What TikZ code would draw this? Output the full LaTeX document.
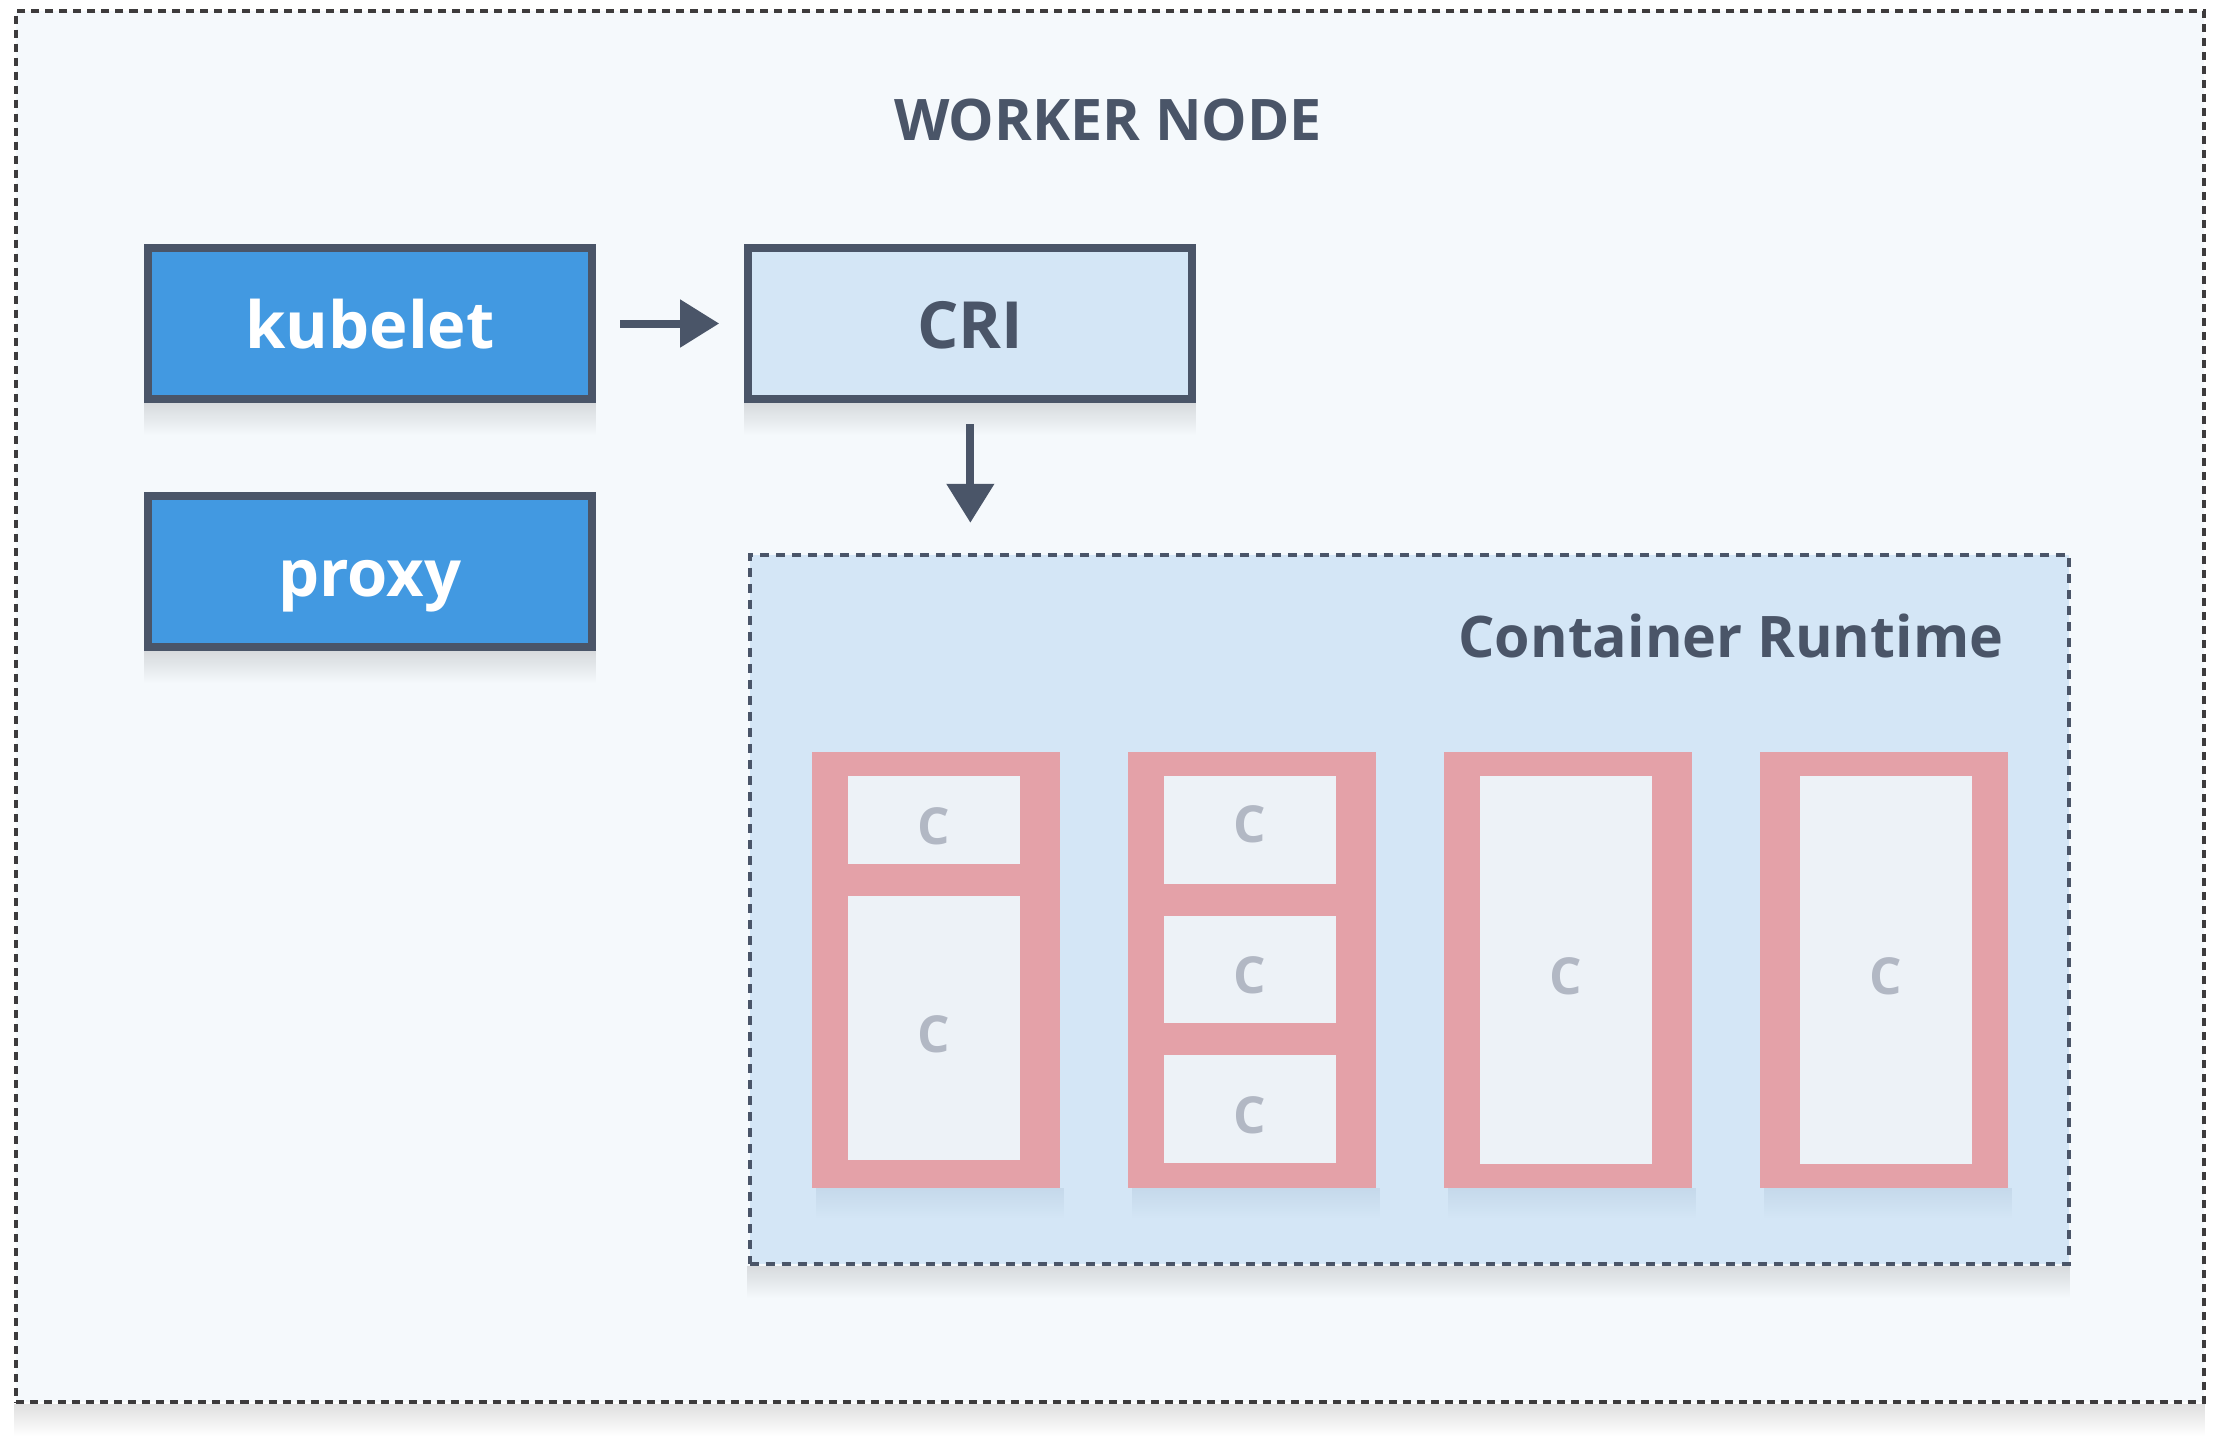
\documentclass[tikz,border=0pt]{standalone}
\usepackage{fontspec}
\setmainfont{Open Sans}
\usetikzlibrary{arrows.meta, positioning, fadings}

\definecolor{slate}{HTML}{4A5568}
\definecolor{nodebg}{HTML}{F5F9FC}
\definecolor{nodeline}{HTML}{3D3B3C}
\definecolor{kubeblue}{HTML}{4299E1}
\definecolor{crifill}{HTML}{D4E6F6}
\definecolor{podpink}{HTML}{E4A1A8}
\definecolor{ctrfill}{HTML}{EDF2F7}
\definecolor{ctrtext}{HTML}{B2B8C4}
\definecolor{podshade}{HTML}{5E7C9B}

\begin{document}
\begin{tikzpicture}[
    x=0.01cm, y=-0.01cm,
    every node/.style={font=\bfseries},
    worker/.style={draw=nodeline, fill=nodebg, line width=0.04cm, dash pattern=on 0.08cm off 0.06cm, minimum width=21.86cm, minimum height=13.91cm, inner sep=0pt},
    block/.style={draw=slate, line width=0.08cm, fill=#1, minimum width=4.44cm, minimum height=1.51cm, text height=0.62cm, text depth=0.12cm, font=\fontsize{18.5}{22}\selectfont\bfseries},
    heading/.style={font=\fontsize{16.3}{20}\selectfont\bfseries, text=slate, inner sep=0pt},
    runtime/.style={draw=slate, fill=crifill, line width=0.04cm, dash pattern=on 0.09cm off 0.07cm, minimum width=13.19cm, minimum height=7.09cm, inner sep=0pt},
    pod/.style={fill=podpink, minimum width=2.48cm, minimum height=4.36cm, inner sep=0pt, outer sep=0pt},
    ctr/.style={fill=ctrfill, text=ctrtext, minimum width=1.72cm, inner sep=0pt, outer sep=0pt, text height=0.485cm, text depth=0cm, font=\fontsize{14.5}{16}\selectfont\bfseries},
    arr/.style={draw=slate, line width=0.08cm, -{Triangle[length=0.39cm, width=0.46cm]}},
    shade/.style={fill=#1, opacity=0.12, path fading=south},
    shade/.default=black,
]
    \useasboundingbox (0,0) rectangle (2236,1444);

    % Worker node frame
    \node[worker] (worker) at (1110,706.5) {};
    \node[heading] (wtitle) at (1108,120) {WORKER NODE};

    % Node components
    \node[block=kubeblue, text=white] (kubelet) at (370,323.5) {kubelet};
    \node[block=crifill, text=slate, right=1.48cm of kubelet] (cri) {CRI};
    \node[block=kubeblue, text=white, below=0.89cm of kubelet] (proxy) {proxy};

    % Container runtime with pods
    \node[runtime] (rt) at (1409.5,909.5) {};
    \node[heading, anchor=east] (rtlabel) at (2004,636) {Container Runtime};

    \foreach \i in {0,...,3} {
        \node[pod] (pod\i) at ({936+316*\i},970) {};
    }

    % pod 1: two containers
    \node[ctr, minimum height=0.88cm, below=0.24cm of pod0.north, xshift=-0.02cm] (c1a) {C};
    \node[ctr, minimum height=2.64cm, below=0.32cm of c1a] (c1b) {C};
    % pod 2: three containers
    \node[ctr, minimum height=1.08cm, text height=0.365cm, text depth=0.12cm, below=0.24cm of pod1.north, xshift=-0.02cm] (c2a) {C};
    \node[ctr, minimum height=1.07cm, below=0.32cm of c2a] (c2b) {C};
    \node[ctr, minimum height=1.08cm, below=0.32cm of c2b] (c2c) {C};
    % pods 3 and 4: one container each
    \node[ctr, minimum height=3.88cm, below=0.24cm of pod2.north, xshift=-0.02cm] (c3a) {C};
    \node[ctr, minimum height=3.88cm, below=0.24cm of pod3.north, xshift=0.02cm] (c4a) {C};

    % Soft shadows under the boxes
    \foreach \n in {worker, kubelet, proxy, cri, rt}
        \fill[shade] (\n.south west) rectangle ([yshift=-0.32cm]\n.south east);
    \foreach \i in {0,...,3}
        \fill[shade=podshade] ([xshift=0.04cm]pod\i.south west) rectangle ([xshift=0.04cm, yshift=-0.3cm]pod\i.south east);

    % Arrows
    \draw[arr, shorten <=0.24cm, shorten >=0.25cm] (kubelet) -- (cri);
    \draw[arr, shorten <=0.21cm, shorten >=0.30cm] (cri) -- (cri |- rt.north);
\end{tikzpicture}
\end{document}
